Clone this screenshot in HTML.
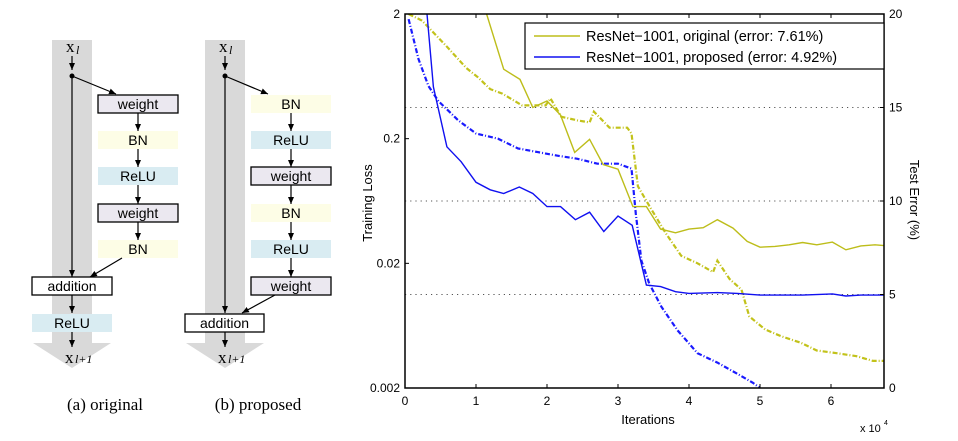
<!DOCTYPE html>
<html><head><meta charset="utf-8"><style>
body{margin:0;background:#fff;width:958px;height:441px;overflow:hidden}
svg{display:block}
.s{font-family:"Liberation Sans",sans-serif}
.r{font-family:"Liberation Serif",serif}
</style></head><body>
<svg id="fig" width="958" height="441" viewBox="0 0 958 441">
<defs><marker id="ah" markerWidth="8" markerHeight="8" refX="7" refY="4" orient="auto" markerUnits="userSpaceOnUse"><path d="M0,1 L7,4 L0,7 Z" fill="#000"/></marker></defs>
<g id="diagram"></g>
<g id="chart"></g>
</svg>
<script>
// ---- chart data ----
const errIterOrig=[1.15,1.39,1.62,1.8,2.0,2.19,2.39,2.6,2.79,3.0,3.21,3.4,3.6,3.81,4.0,4.2,4.4,4.62,4.82,5.0,5.21,5.41,5.6,5.8,6.02,6.21,6.42,6.62,6.81];
const errOrig=[20,17.05,16.5,15.0,15.35,14.6,12.6,13.3,11.95,11.7,9.7,9.7,8.5,8.3,8.5,8.57,9.0,8.55,7.84,7.53,7.57,7.66,7.78,7.66,7.8,7.39,7.6,7.66,7.6];
const errIterProp=[0.31,0.4,0.59,0.79,1.0,1.2,1.39,1.61,1.8,2.0,2.19,2.4,2.6,2.8,3.0,3.2,3.4,3.6,3.81,4.0,4.4,4.68,5.0,5.6,6.02,6.21,6.42,6.81];
const errProp=[20,16.1,12.9,12.1,11.0,10.6,10.4,10.75,10.4,9.7,9.7,9.0,9.4,8.37,9.2,8.7,5.5,5.42,5.15,5.06,5.1,5.06,4.97,4.97,5.03,4.92,4.97,4.97];
const lossIterOrig=[0.05,0.24,0.58,0.86,1.03,1.2,1.37,1.65,1.98,2.05,2.2,2.43,2.6,2.66,2.88,3.13,3.19,3.28,3.44,3.67,3.89,4.12,4.34,4.4,4.57,4.74,4.85,5.07,5.3,5.58,5.8,6.08,6.36,6.59,6.79];
const lossOrig=[2.0,1.77,1.11,0.74,0.62,0.5,0.46,0.37,0.37,0.42,0.30,0.28,0.27,0.33,0.245,0.245,0.22,0.083,0.058,0.035,0.023,0.02,0.017,0.021,0.015,0.0123,0.0075,0.0059,0.0052,0.0046,0.004,0.0038,0.0036,0.0033,0.0033];
const lossIterProp=[0.05,0.19,0.33,0.47,0.75,1.0,1.31,1.59,1.87,2.15,2.43,2.71,3.0,3.19,3.25,3.33,3.44,3.61,3.84,4.12,4.4,4.68,4.9,5.0];
const lossProp=[1.82,0.87,0.53,0.40,0.28,0.22,0.2,0.167,0.156,0.146,0.138,0.126,0.126,0.115,0.05,0.021,0.0138,0.009,0.0058,0.0038,0.0032,0.0026,0.0022,0.002];
const xTicks=[0,1,2,3,4,5,6];
const lossTicks=[2,0.2,0.02,0.002];
const lossTickLabels=["2","0.2","0.02","0.002"];
const errTicks=[0,5,10,15,20];
const gridErr=[5,10,15];

const NS="http://www.w3.org/2000/svg";
function mk(parent,tag,attrs,text){const e=document.createElementNS(NS,tag);for(const k in attrs)e.setAttribute(k,attrs[k]);if(text!==undefined)e.textContent=text;parent.appendChild(e);return e;}
const L=405,R=884,T=14,B=388;
const xs=v=>L+v*71;
const ye=v=>B-(B-T)*v/20;
const yl=v=>B-(Math.log10(v)-Math.log10(0.002))*(B-T)/3;
const ch=document.getElementById('chart');
const clip=mk(ch,'clipPath',{id:'pc'});mk(clip,'rect',{x:L,y:T,width:R-L,height:B-T});
gridErr.forEach(g=>{const l=mk(ch,'line',{x1:L,x2:R,y1:ye(g),y2:ye(g),stroke:'#555','stroke-width':1,'stroke-dasharray':'1.2,4'});

});
function poly(xa,ya,fx,fy,color,dash,w,name){const pts=xa.map((x,i)=>xs(x).toFixed(1)+','+fy(ya[i]).toFixed(1)).join(' ');
const p=mk(ch,'polyline',{points:pts,fill:'none',stroke:color,'stroke-width':w,'clip-path':'url(#pc)'});if(dash)p.setAttribute('stroke-dasharray',dash);

}
poly(lossIterOrig,lossOrig,xs,yl,'#c2c21a','5,2,1,2',2.2,'loss-original-line');
poly(lossIterProp,lossProp,xs,yl,'#1a1aff','5,2,1,2',2.2,'loss-proposed-line');
poly(errIterOrig,errOrig,xs,ye,'#bdbd1a',null,1.4,'error-original-line');
poly(errIterProp,errProp,xs,ye,'#1010f0',null,1.4,'error-proposed-line');
mk(ch,'rect',{x:L,y:T,width:R-L,height:B-T,fill:'none',stroke:'#000','stroke-width':1.5});
xTicks.forEach(t=>{mk(ch,'line',{x1:xs(t),x2:xs(t),y1:B,y2:B-4,stroke:'#000'});mk(ch,'line',{x1:xs(t),x2:xs(t),y1:T,y2:T+4,stroke:'#000'});
const tx=mk(ch,'text',{x:xs(t),y:B+17,'text-anchor':'middle',class:'s','font-size':12},String(t));

});
lossTicks.forEach((t,i)=>{mk(ch,'line',{x1:L,x2:L+4,y1:yl(t),y2:yl(t),stroke:'#000'});
const tx=mk(ch,'text',{x:L-5,y:yl(t)+4,'text-anchor':'end',class:'s','font-size':12},lossTickLabels[i]);

});
errTicks.forEach(t=>{mk(ch,'line',{x1:R,x2:R-4,y1:ye(t),y2:ye(t),stroke:'#000'});
const tx=mk(ch,'text',{x:R+5,y:ye(t)+4,class:'s','font-size':12},String(t));

});
let t1=mk(ch,'text',{x:0,y:0,transform:'translate(372,203) rotate(-90)','text-anchor':'middle',class:'s','font-size':13},'Training Loss');

let t2=mk(ch,'text',{x:0,y:0,transform:'translate(910,200) rotate(90)','text-anchor':'middle',class:'s','font-size':13},'Test Error (%)');

let t3=mk(ch,'text',{x:648,y:424,'text-anchor':'middle',class:'s','font-size':13},'Iterations');

let t4=mk(ch,'text',{x:860,y:432,class:'s','font-size':11},'x 10');

mk(ch,'text',{x:884,y:425,class:'s','font-size':7},'4');
const lg=mk(ch,'g',{});

mk(lg,'rect',{x:525,y:23,width:359,height:46,fill:'#fff',stroke:'#000','stroke-width':1.2});
mk(lg,'line',{x1:534,x2:580,y1:36,y2:36,stroke:'#bdbd1a','stroke-width':1.4});
mk(lg,'line',{x1:534,x2:580,y1:57,y2:57,stroke:'#1010f0','stroke-width':1.4});
mk(lg,'text',{x:586,y:41,class:'s','font-size':14.5},'ResNet−1001, original (error: 7.61%)');
mk(lg,'text',{x:586,y:62,class:'s','font-size':14.5},'ResNet−1001, proposed (error: 4.92%)');

// ---- diagram ----
const dg=document.getElementById('diagram');
const YEL='#fdfde6',BLU='#d9ecf2',WGT='#ebe8f0';
function col(x,tx,name){const g=mk(dg,'g',{});
mk(g,'rect',{x:x,y:40,width:40,height:303,fill:'#d9d9d9'});
mk(g,'polygon',{points:`${x-19},343 ${x+59},343 ${x+20},368`,fill:'#d9d9d9'});
mk(g,'text',{x:tx,y:52,class:'r','font-size':17},'x');mk(g,'text',{x:tx+10,y:54,class:'r','font-size':12,'font-style':'italic'},'l');
mk(g,'text',{x:tx-1,y:363,class:'r','font-size':17},'x');mk(g,'text',{x:tx+9,y:363,class:'r','font-size':12,'font-style':'italic'},'l+1');
return g;}
function box(g,x,y,w,fill,label,stroke,name){const b=mk(g,'g',{});
mk(b,'rect',{x:x,y:y,width:w,height:18,fill:fill,stroke:stroke?'#000':'none','stroke-width':1.3});
mk(b,'text',{x:x+w/2,y:y+14,'text-anchor':'middle',class:'s','font-size':14},label);}
function arrow(g,x1,y1,x2,y2){mk(g,'line',{x1,y1,x2,y2,stroke:'#000','stroke-width':1.2,'marker-end':'url(#ah)'});}
const ga=col(52,66,'diagram-original');
arrow(ga,72,56,72,70);mk(ga,'circle',{cx:72,cy:76,r:2.5});arrow(ga,72,76,72,277);arrow(ga,72,76,116,94);
const ya=[95,131,167,204,240],la=['weight','BN','ReLU','weight','BN'];
ya.forEach((y,i)=>{const w=la[i]==='weight';box(ga,98,y,80,w?WGT:(la[i]==='BN'?YEL:BLU),la[i],w,'block-'+la[i].toLowerCase());if(i<4)arrow(ga,138,y+18,138,ya[i+1]);});
arrow(ga,122,258,90,277);
box(ga,32,277,80,'#fff','addition',true,'addition-box');arrow(ga,72,295,72,313);
box(ga,32,314,80,BLU,'ReLU',false,'block-relu-after-add');arrow(ga,72,332,72,347);
const gb=col(205,219,'diagram-proposed');
arrow(gb,225,56,225,70);mk(gb,'circle',{cx:225,cy:76,r:2.5});arrow(gb,225,76,225,313);arrow(gb,225,76,268,94);
const lb=['BN','ReLU','weight','BN','ReLU','weight'],yb=[95,131,167,204,240,277];
yb.forEach((y,i)=>{const w=lb[i]==='weight';box(gb,251,y,80,w?WGT:(lb[i]==='BN'?YEL:BLU),lb[i],w,'block-'+lb[i].toLowerCase());if(i<5)arrow(gb,291,y+18,291,yb[i+1]);});
arrow(gb,275,295,242,313);
box(gb,185,314,79,'#fff','addition',true,'addition-box');arrow(gb,225,332,225,347);
let c1=mk(dg,'text',{x:105,y:410,'text-anchor':'middle',class:'r','font-size':17},'(a) original');

let c2=mk(dg,'text',{x:258,y:410,'text-anchor':'middle',class:'r','font-size':17},'(b) proposed');

</script>
</body></html>
